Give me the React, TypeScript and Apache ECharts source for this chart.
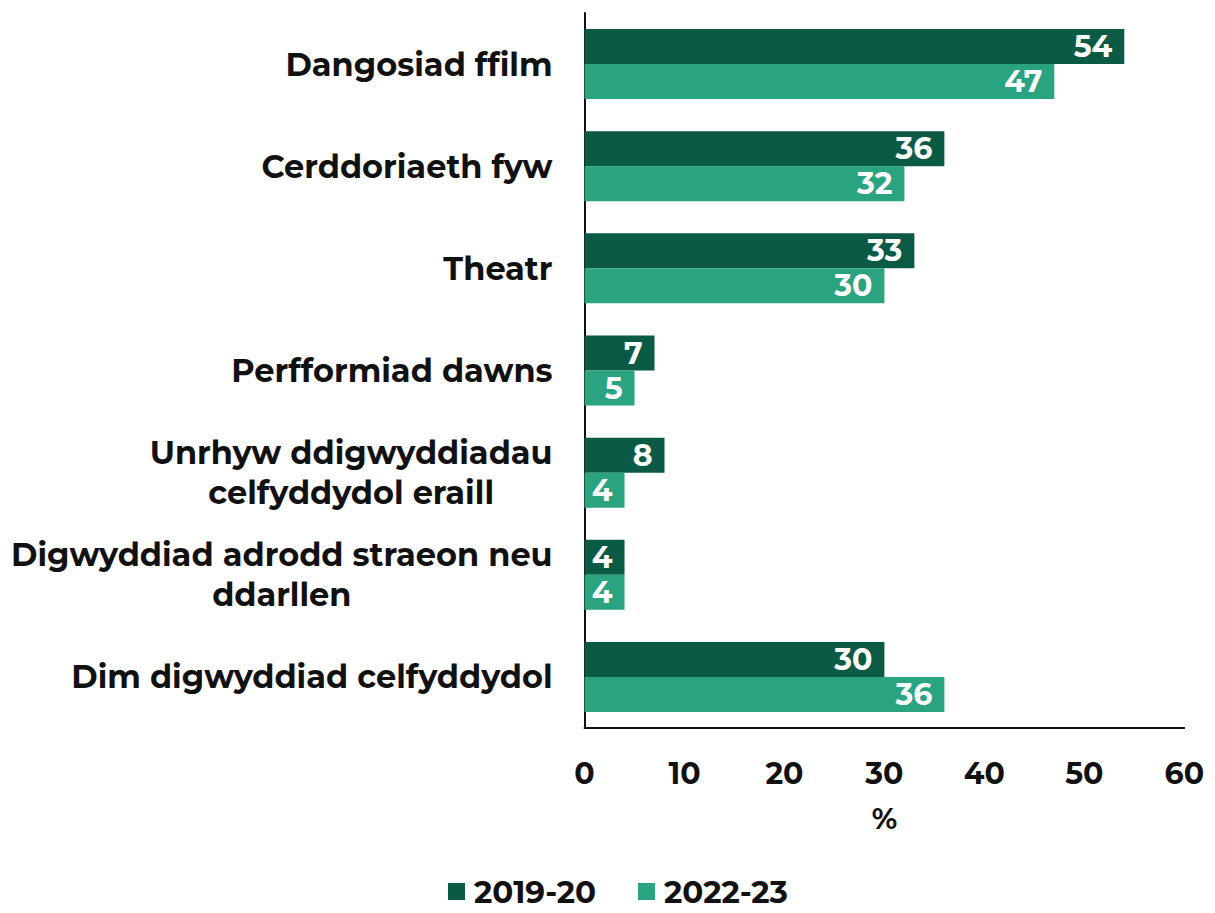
import React, { useEffect, useRef } from "react";
import * as echarts from "echarts";

const categories = [
  "Dangosiad ffilm",
  "Cerddoriaeth fyw",
  "Theatr",
  "Perfformiad dawns",
  "Unrhyw ddigwyddiadau\ncelfyddydol eraill",
  "Digwyddiad adrodd straeon neu\nddarllen",
  "Dim digwyddiad celfyddydol",
];
const series2019 = [54, 36, 33, 7, 8, 4, 30];
const series2022 = [47, 32, 30, 5, 4, 4, 36];
const xTicks = [0, 10, 20, 30, 40, 50, 60];

const DARK = "#0b5a45";
const LIGHT = "#29a380";
const FONT = "Montserrat, 'Noto Sans', sans-serif";

export default function App() {
  const ref = useRef<HTMLDivElement>(null);
  useEffect(() => {
    if (!ref.current) return;
    const chart = echarts.init(ref.current, undefined, { renderer: "svg" });
    const label = {
      show: true,
      position: "insideRight",
      color: "#fff",
      fontSize: 30,
      fontWeight: "bold",
      fontFamily: FONT,
      distance: 12,
    };
    chart.setOption({
      animation: false,
      textStyle: { fontFamily: FONT },
      grid: { left: 576, right: 21, top: 5, bottom: 185, containLabel: false },
      legend: {
        top: 868,
        left: 440,
        padding: 0,
        itemWidth: 17,
        itemHeight: 17,
        itemGap: 42,
        icon: "rect",
        textStyle: {
          fontSize: 31,
          fontWeight: "bold",
          color: "#111",
          fontFamily: FONT,
          padding: [0, 0, 0, 4],
        },
        data: ["2019-20", "2022-23"],
      },
      xAxis: {
        type: "value",
        min: xTicks[0],
        max: xTicks[xTicks.length - 1],
        interval: 10,
        name: "%",
        nameLocation: "middle",
        nameGap: 76,
        nameTextStyle: { fontSize: 29, fontWeight: "bold", color: "#111", fontFamily: FONT },
        axisLine: { show: true, lineStyle: { color: "#111", width: 2 } },
        axisTick: { show: false },
        splitLine: { show: false },
        axisLabel: { fontSize: 30, fontWeight: "bold", color: "#111", margin: 30, fontFamily: FONT },
      },
      yAxis: {
        type: "category",
        inverse: true,
        data: categories,
        axisLine: { show: true, lineStyle: { color: "#111", width: 2 } },
        axisTick: { show: false },
        axisLabel: {
          color: "#111",
          margin: 32,
          align: "right",
          fontFamily: FONT,
          formatter: (v: string) =>
            v
              .split("\n")
              .map((l) => `{c|${l}}`)
              .join("\n"),
          rich: {
            c: {
              fontSize: 32,
              fontWeight: "bold",
              color: "#111",
              fontFamily: FONT,
              lineHeight: 40,
              align: "center",
            },
          },
        },
      },
      series: [
        {
          name: "2019-20",
          type: "bar",
          data: series2019,
          itemStyle: { color: DARK },
          barWidth: 35,
          barGap: "0%",
          label,
        },
        {
          name: "2022-23",
          type: "bar",
          data: series2022,
          itemStyle: { color: LIGHT },
          barWidth: 35,
          barGap: "0%",
          label,
        },
      ],
    });
    return () => chart.dispose();
  }, []);
  return <div ref={ref} style={{ width: 1199, height: 905, marginBottom: -8 }} />;
}
